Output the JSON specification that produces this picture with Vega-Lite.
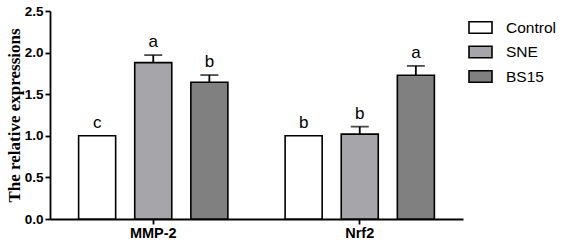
{
  "$schema": "https://vega.github.io/schema/vega-lite/v6.json",
  "autosize": "none",
  "padding": {"left": 50, "top": 11, "right": 98, "bottom": 26},
  "width": 413,
  "height": 208,
  "background": "white",
  "config": {"view": {"stroke": null}},
  "data": {
    "values": [
      {"gene": "MMP-2", "group": "Control", "value": 1.0, "upper": 1.0, "letter": "c"},
      {"gene": "MMP-2", "group": "SNE", "value": 1.88, "upper": 1.97, "letter": "a"},
      {"gene": "MMP-2", "group": "BS15", "value": 1.643, "upper": 1.73, "letter": "b"},
      {"gene": "Nrf2", "group": "Control", "value": 1.0, "upper": 1.0, "letter": "b"},
      {"gene": "Nrf2", "group": "SNE", "value": 1.02, "upper": 1.11, "letter": "b"},
      {"gene": "Nrf2", "group": "BS15", "value": 1.727, "upper": 1.84, "letter": "a"}
    ]
  },
  "encoding": {
    "x": {
      "field": "gene", "type": "nominal", "sort": ["MMP-2", "Nrf2"],
      "scale": {"paddingInner": 0, "paddingOuter": 0},
      "axis": {
        "title": null, "labelAngle": 0, "labelFont": "Liberation Sans", "labelFontWeight": "bold",
        "labelFontSize": 14.5, "labelColor": "black", "labelPadding": 2,
        "domainColor": "black", "domainWidth": 1.8, "tickColor": "black", "tickWidth": 1.8, "tickSize": 5
      }
    },
    "xOffset": {
      "field": "group", "type": "nominal", "sort": ["Control", "SNE", "BS15"],
      "scale": {"paddingInner": 0.34, "paddingOuter": 0.51}
    }
  },
  "layer": [
    {
      "mark": {"type": "bar", "stroke": "black", "strokeWidth": 1.6},
      "encoding": {
        "y": {
          "field": "value", "type": "quantitative",
          "scale": {"domain": [0, 2.5], "nice": false},
          "axis": {
            "title": "The relative expressions", "titleFont": "Liberation Serif", "titleFontWeight": "bold",
            "titleFontSize": 17, "titleColor": "black", "titlePadding": 1,
            "values": [0, 0.5, 1, 1.5, 2, 2.5], "format": ".1f", "grid": false,
            "labelFont": "Liberation Sans", "labelFontWeight": "bold", "labelFontSize": 13.5, "labelColor": "black",
            "labelPadding": 2, "domainColor": "black", "domainWidth": 1.8, "tickColor": "black", "tickWidth": 1.8, "tickSize": 5
          }
        },
        "fill": {
          "field": "group", "type": "nominal", "sort": ["Control", "SNE", "BS15"],
          "scale": {"domain": ["Control", "SNE", "BS15"], "range": ["#ffffff", "#a6a6aa", "#808080"]},
          "legend": {
            "title": null, "orient": "none", "legendX": 418, "legendY": 4,
            "symbolType": "M-1,-0.5H1V0.5H-1Z", "symbolSize": 529, "symbolStrokeColor": "black",
            "symbolStrokeWidth": 1.6, "labelFont": "Liberation Sans", "labelFontSize": 15.5, "labelColor": "black",
            "labelOffset": 13, "rowPadding": 2.5, "padding": 0
          }
        }
      }
    },
    {
      "transform": [{"filter": "datum.upper > datum.value"}],
      "mark": {"type": "rule", "color": "black", "strokeWidth": 1.8},
      "encoding": {
        "y": {"field": "value", "type": "quantitative"},
        "y2": {"field": "upper"}
      }
    },
    {
      "transform": [{"filter": "datum.upper > datum.value"}],
      "mark": {"type": "tick", "color": "black", "thickness": 1.8, "size": 18, "orient": "horizontal"},
      "encoding": {
        "y": {"field": "upper", "type": "quantitative"}
      }
    },
    {
      "mark": {"type": "text", "font": "Liberation Sans", "fontSize": 17, "baseline": "bottom", "dy": -4, "color": "black"},
      "encoding": {
        "y": {"field": "upper", "type": "quantitative"},
        "text": {"field": "letter"}
      }
    }
  ]
}
